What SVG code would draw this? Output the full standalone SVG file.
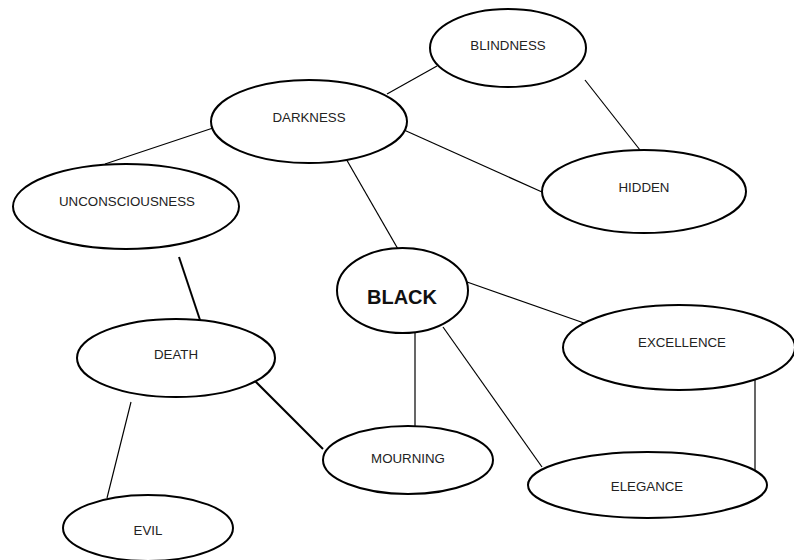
<svg xmlns="http://www.w3.org/2000/svg" width="794" height="560" viewBox="0 0 794 560">
<style>
.n ellipse{fill:#fff;stroke:#000;stroke-width:2}
.n text{font-family:"Liberation Sans",Arial,sans-serif;font-size:13.3px;fill:#222;text-anchor:middle;dominant-baseline:central}
#black text{font-size:20px;font-weight:bold;fill:#111}
.e line{stroke:#000;stroke-width:1.2}
.e line.t{stroke-width:2}
</style>
<rect width="794" height="560" fill="#fff"/>
<g id="edges" class="e">
<line x1="387" y1="94" x2="437" y2="66"/>
<line x1="585" y1="80" x2="640" y2="150"/>
<line x1="404" y1="130" x2="542" y2="192"/>
<line x1="213" y1="128" x2="105" y2="164"/>
<line x1="345" y1="157" x2="402" y2="256"/>
<line class="t" x1="179" y1="257" x2="203" y2="329"/>
<line x1="467" y1="282" x2="584" y2="323"/>
<line x1="415" y1="333" x2="415" y2="432"/>
<line x1="443" y1="327" x2="542" y2="467"/>
<line x1="755" y1="377" x2="755" y2="470"/>
<line class="t" x1="251" y1="377" x2="323" y2="449"/>
<line x1="131" y1="402" x2="107" y2="498"/>
</g>
<g id="blindness" class="n"><ellipse cx="508" cy="48" rx="78" ry="39"/><text x="508" y="45">BLINDNESS</text></g>
<g id="darkness" class="n"><ellipse cx="309" cy="121.5" rx="98" ry="41.5"/><text x="309" y="117">DARKNESS</text></g>
<g id="hidden" class="n"><ellipse cx="644" cy="191.5" rx="102" ry="41.5"/><text x="644" y="187">HIDDEN</text></g>
<g id="unconsciousness" class="n"><ellipse cx="126" cy="206.5" rx="113" ry="42.5"/><text x="127" y="201">UNCONSCIOUSNESS</text></g>
<g id="black" class="n"><ellipse cx="402.5" cy="290.5" rx="65.5" ry="42.5"/><text x="402" y="297">BLACK</text></g>
<g id="excellence" class="n"><ellipse cx="679" cy="347.5" rx="116" ry="42.5"/><text x="682" y="342">EXCELLENCE</text></g>
<g id="death" class="n"><ellipse cx="176" cy="358" rx="99" ry="39"/><text x="176" y="354">DEATH</text></g>
<g id="mourning" class="n"><ellipse cx="408" cy="460" rx="85" ry="34"/><text x="408" y="458">MOURNING</text></g>
<g id="elegance" class="n"><ellipse cx="647.5" cy="485" rx="119.5" ry="33"/><text x="647" y="486">ELEGANCE</text></g>
<g id="evil" class="n"><ellipse cx="148" cy="528" rx="85" ry="33"/><text x="148" y="530">EVIL</text></g>
</svg>
